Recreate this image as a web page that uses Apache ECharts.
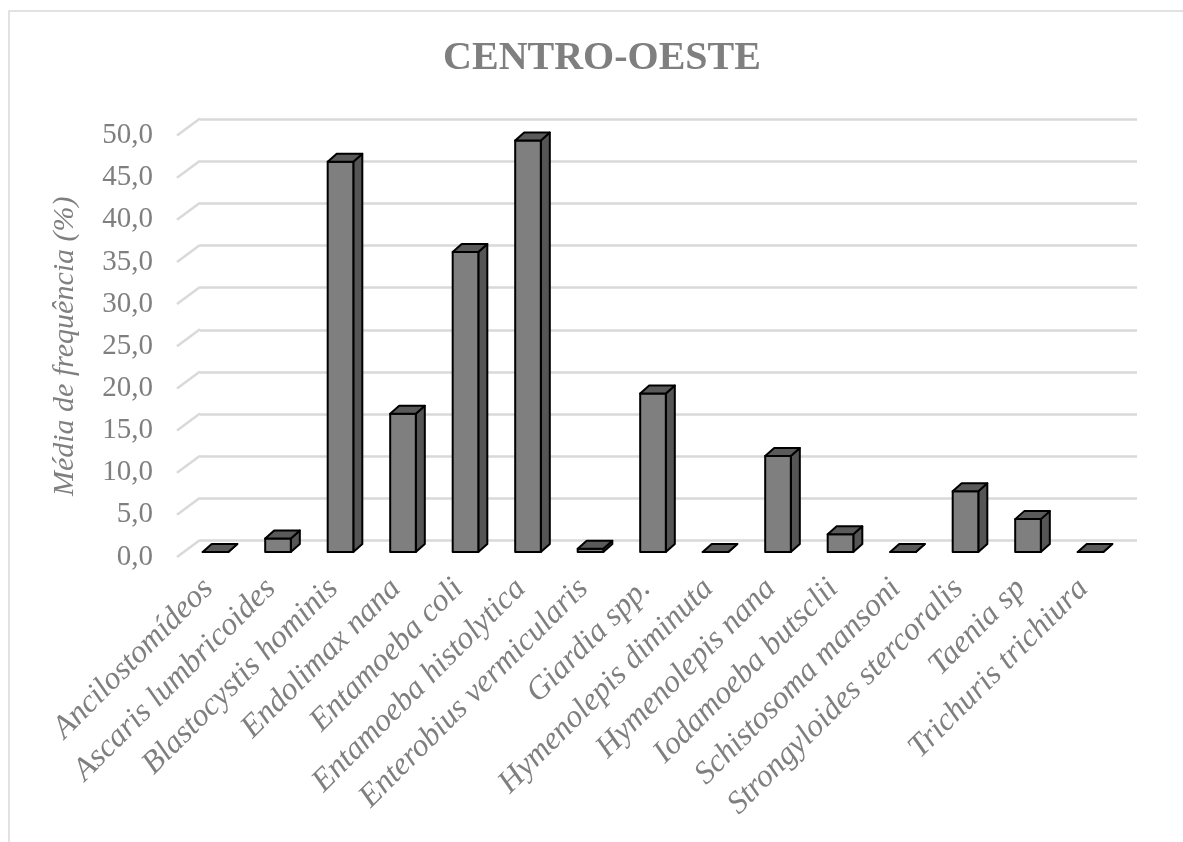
<!DOCTYPE html>
<html>
<head>
<meta charset="utf-8">
<title>CENTRO-OESTE</title>
<script src="https://cdn.jsdelivr.net/npm/echarts@6/dist/echarts.min.js"></script>
<style>
  html, body { margin: 0; padding: 0; background: #ffffff; }
  #chart { width: 1183px; height: 842px; }
</style>
</head>
<body>
<div id="chart"></div>
<script>
// Parasite categories and mean frequency (%) for the Centro-Oeste region
const categories = [
  'Ancilostomídeos', 'Ascaris lumbricoides', 'Blastocystis hominis', 'Endolimax nana',
  'Entamoeba coli', 'Entamoeba histolytica', 'Enterobius vermicularis', 'Giardia spp.',
  'Hymenolepis diminuta', 'Hymenolepis nana', 'Iodamoeba butsclii', 'Schistosoma mansoni',
  'Strongyloides stercoralis', 'Taenia sp', 'Trichuris trichiura'
];
const frequencies = [0, 1.6, 46.3, 16.4, 35.6, 48.8, 0.4, 18.8, 0, 11.4, 2.1, 0, 7.2, 3.9, 0];
const yTicks = [0, 5, 10, 15, 20, 25, 30, 35, 40, 45, 50];

const titleText = 'CENTRO-OESTE';
const yAxisName = 'Média de frequência (%)';

const textGray = '#7f7f7f';
const gridGray = '#d9d9d9';
const serif = '"Liberation Serif", "Times New Roman", serif';

// oblique depth of the floor (front edge -> back wall) and of each bar
const FLOOR_DX = 23, FLOOR_DY = 17;
const BAR_DX = 9, BAR_DY = 8;

const yMin = yTicks[0];
const yMax = yTicks[yTicks.length - 1];
const yStep = yTicks[1] - yTicks[0];

const fmt = v => v.toFixed(1).replace('.', ',');

const chart = echarts.init(document.getElementById('chart'), null, { renderer: 'canvas' });

const hiddenCat = (gridIndex) => ({
  type: 'category', gridIndex, data: categories, show: false, boundaryGap: true
});
const hiddenVal = (gridIndex, extra) => Object.assign({
  type: 'value', gridIndex, min: yMin, max: yMax, interval: yStep,
  axisLabel: { show: false }, axisLine: { show: false }, axisTick: { show: false },
  splitLine: { show: false }
}, extra || {});

chart.setOption({
  backgroundColor: '#ffffff',
  animation: false,
  title: {
    text: titleText,
    left: 597,
    textAlign: 'center',
    top: 34,
    textStyle: { fontFamily: serif, fontWeight: 'bold', fontSize: 40, color: textGray }
  },
  graphic: [{
    type: 'rect',
    shape: { x: 9, y: 11, width: 1200, height: 900 },
    style: { fill: 'none', stroke: gridGray, lineWidth: 1.5 },
    silent: true, z: -10
  }],
  grid: [
    // front edge of the floor: tick labels and category labels
    { left: 177, width: 937.5, top: 135.5, bottom: 285, containLabel: false },
    // plane of the bar front faces
    { left: 184.25, width: 937.5, top: 130.5, bottom: 290, containLabel: false },
    // back wall: horizontal gridlines
    { left: 200, width: 937, top: 119, bottom: 301.5, containLabel: false }
  ],
  xAxis: [
    {
      type: 'category', gridIndex: 0, data: categories, boundaryGap: true,
      axisLine: { show: false }, axisTick: { show: false },
      axisLabel: {
        interval: 0, rotate: 45, margin: 27,
        fontFamily: serif, fontStyle: 'italic', fontSize: 32, color: textGray
      }
    },
    hiddenCat(1),
    hiddenCat(2)
  ],
  yAxis: [
    {
      type: 'value', gridIndex: 0, min: yMin, max: yMax, interval: yStep,
      name: yAxisName, nameLocation: 'middle', nameGap: 97, nameRotate: 90,
      nameTextStyle: { fontFamily: serif, fontStyle: 'italic', fontSize: 30, color: textGray },
      axisLine: { show: false }, axisTick: { show: false },
      splitLine: { show: false },
      axisLabel: { margin: 24, formatter: fmt, fontFamily: serif, fontSize: 29, color: textGray }
    },
    hiddenVal(1),
    hiddenVal(2, { splitLine: { show: true, lineStyle: { color: gridGray, width: 2.5 } } })
  ],
  series: [
    {
      // slanted side-wall segments joining each tick to its back-wall gridline
      type: 'custom',
      xAxisIndex: 0, yAxisIndex: 0,
      silent: true, z: 1,
      data: yTicks.map(v => [0, v]),
      encode: { x: 0, y: 1 },
      renderItem: function (params, api) {
        const y = api.coord([api.value(0), api.value(1)])[1];
        const x0 = params.coordSys.x;
        return {
          type: 'line',
          shape: { x1: x0, y1: y, x2: x0 + FLOOR_DX, y2: y - FLOOR_DY },
          style: { stroke: gridGray, lineWidth: 2.5 }
        };
      }
    },
    {
      // 3D-looking columns: front face, right side and top
      type: 'custom',
      name: yAxisName,
      xAxisIndex: 1, yAxisIndex: 1,
      z: 5,
      data: frequencies.map((v, i) => [i, v]),
      encode: { x: 0, y: 1 },
      renderItem: function (params, api) {
        const idx = api.value(0);
        const val = api.value(1);
        const top = api.coord([idx, val]);
        const base = api.coord([idx, 0]);
        const w = api.size([1, 0])[0] * 0.41;
        const xl = top[0] - w / 2, xr = top[0] + w / 2;
        const yt = top[1], yb = base[1];
        const line = { stroke: '#000000', lineWidth: 2, lineJoin: 'round' };
        return {
          type: 'group',
          children: [
            {
              type: 'polygon',
              shape: { points: [[xr, yb], [xr + BAR_DX, yb - BAR_DY], [xr + BAR_DX, yt - BAR_DY], [xr, yt]] },
              style: Object.assign({ fill: '#555555' }, line)
            },
            {
              type: 'polygon',
              shape: { points: [[xl, yb], [xr, yb], [xr, yt], [xl, yt]] },
              style: Object.assign({ fill: '#7f7f7f' }, line)
            },
            {
              type: 'polygon',
              shape: { points: [[xl, yt], [xr, yt], [xr + BAR_DX, yt - BAR_DY], [xl + BAR_DX, yt - BAR_DY]] },
              style: Object.assign({ fill: '#5a5a5a' }, line)
            }
          ]
        };
      }
    }
  ]
});
</script>
</body>
</html>
